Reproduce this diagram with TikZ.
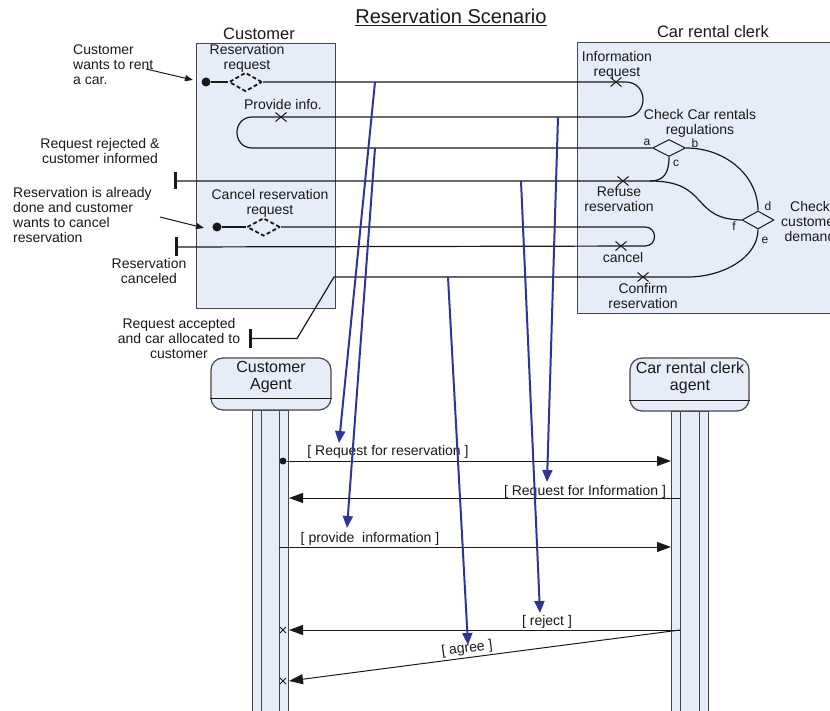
\documentclass[tikz,border=0pt]{standalone}
\usepackage{fontspec}
\setmainfont{Liberation Sans}
\usetikzlibrary{arrows.meta,calc,shapes.geometric}

\definecolor{lanefill}{RGB}{231,237,248}
\definecolor{ink}{RGB}{25,25,25}
\definecolor{edge}{RGB}{70,70,70}
\definecolor{flowblue}{RGB}{48,52,152}

\begin{document}
\begin{tikzpicture}[x=1pt,y=-1pt,
  lbl/.style={font=\fontsize{14}{15}\selectfont, inner sep=0, align=center, text=ink},
  lanetitle/.style={font=\fontsize{16.5}{18}\selectfont, inner sep=0, text=ink},
  agenttext/.style={font=\fontsize{16}{17.5}\selectfont, inner sep=0, align=center, text=ink},
  pin/.style={font=\fontsize{12}{12}\selectfont, inner sep=0, text=ink},
  lane/.style={draw=edge, fill=lanefill, line width=0.8pt, inner sep=0},
  flow/.style={draw=ink, line width=1.2pt},
  startdot/.style={circle, fill=ink, minimum size=9pt, inner sep=0},
  endbar/.style={rectangle, fill=ink, minimum width=3pt, minimum height=17pt, inner sep=0},
  choice/.style={diamond, draw=ink, minimum width=33pt, minimum height=17pt, inner sep=0, line width=1pt},
  tentative/.style={choice, line width=1.8pt, dash pattern=on 4pt off 2.5pt},
  agentbox/.style={draw=edge, fill=lanefill, line width=1.2pt, rounded corners=12pt, minimum width=120pt, minimum height=52pt, inner sep=0},
  lifeline/.style={draw=edge, fill=lanefill, line width=0.9pt},
  msg/.style={draw=ink, line width=1pt, -{Triangle[length=14pt,width=10pt]}},
  note/.style={draw=ink, line width=1pt, -{Triangle[length=8pt,width=6pt]}},
  trace/.style={draw=flowblue, line width=2pt, -{Triangle[length=12pt,width=10pt]}},
  xmark/.pic={\draw[ink, line width=1pt] (-5.5,-4.5) -- (5.5,4.5) (-5.5,4.5) -- (5.5,-4.5);},
  smallx/.pic={\draw[ink, line width=0.9pt] (-3,-3) -- (3,3) (-3,3) -- (3,-3);}
]
\useasboundingbox (0,0) rectangle (830,711);
\clip (0,0) rectangle (830,711);

% ---------- swimlanes ----------
\node[lane, minimum width=139pt, minimum height=265pt] (custlane) at (265.5,175.5) {};
\node[lane, minimum width=263pt, minimum height=271pt] (clerklane) at (708.5,177.5) {};
\node[lanetitle] (custtitle) at (259,34) {Customer};
\node[lanetitle] (clerktitle) at (713,32) {Car rental clerk};
\node[font=\fontsize{20}{22}\selectfont, inner sep=0, text=ink] (title) at (451,17) {\underline{Reservation Scenario}};

% ---------- activity elements ----------
\node[startdot] (s1) at (206,82) {};
\node[startdot] (s2) at (217,227) {};
\node[tentative, minimum height=19pt] (rq) at (245.5,82) {};
\node[tentative, minimum height=18pt] (cr) at (263.5,227) {};
\node[choice] (rules) at (669,148) {};
\node[choice, minimum width=32pt, minimum height=18pt] (demand) at (758,220) {};
\node[endbar] (barR) at (175,181) {};
\node[endbar, minimum height=19pt] (barC) at (176,247) {};
\node[endbar, minimum height=19pt] (barA) at (250,338.5) {};

\coordinate (xInfo) at (616,82);
\coordinate (xProv) at (281,117);
\coordinate (xRef) at (623,181);
\coordinate (xCan) at (621,246);
\coordinate (xConf) at (643,277);
\coordinate (jr) at (650,181);
\coordinate (jc) at (688,277);

% reservation request loop
\draw[flow] (s1) -- (rq.west);
\draw[flow] (rq.east) -- (625.5,82) .. controls (648.8,82) and (648.8,117) .. (625.5,117)
   -- (252.5,117) .. controls (231.8,117) and (231.8,148) .. (252.5,148) -- (rules.west);
% regulations outcomes
\draw[flow] (rules.south) .. controls (669,173) and (664,181) .. (jr) -- (barR);
\draw[flow] (jr) .. controls (710,181) and (690,219) .. (demand.west);
\draw[flow] (rules.east) .. controls (726,148) and (758,176) .. (demand.north);
\draw[flow] (demand.south) .. controls (758,258) and (722,277) .. (jc)
   -- (334,277) -- (297,338.5) -- (barA);
% cancellation
\draw[flow] (s2) -- (cr.west);
\draw[flow] (cr.east) -- (645,227) .. controls (657.7,227) and (657.7,246) .. (645,246) -- (barC);

\pic at (xInfo) {xmark};
\pic at (xProv) {xmark};
\pic at (xRef) {xmark};
\pic at (xCan) {xmark};
\pic at (xConf) {xmark};

% ---------- activity labels ----------
\node[lbl] (lrq) at (247,58.5) {Reservation\\request};
\node[lbl] (lprov) at (283,104) {Provide info.};
\node[lbl] (lcr) at (270,203.5) {Cancel reservation\\request};
\node[lbl] (linfo) at (617,65) {Information\\request};
\node[lbl] (lrules) at (700,123) {Check Car rentals\\regulations};
\node[lbl] (lref) at (619,199) {Refuse\\reservation};
\node[lbl] (lcan) at (623,257) {cancel};
\node[lbl] (lconf) at (643,296) {Confirm\\reservation};
\node[lbl] (ldem) at (810,221) {Check\\customer\\demand};
\node[pin] (pa) at (647,142) {a};
\node[pin] (pb) at (695,143) {b};
\node[pin] (pc) at (676,163) {c};
\node[pin] (pd) at (768,206) {d};
\node[pin] (pe) at (765,240) {e};
\node[pin] (pf) at (734,226) {f};

% ---------- outside notes ----------
\node[lbl, anchor=west, align=left] (nwant) at (73,65) {Customer\\wants to rent\\a car.};
\node[lbl] (nrej) at (100,151) {Request rejected \&\\customer informed};
\node[lbl, anchor=west, align=left] (ndone) at (13,215) {Reservation is already\\done and customer\\wants to cancel\\reservation};
\node[lbl] (ncanc) at (149,271) {Reservation\\canceled};
\node[lbl] (nacc) at (179,338) {Request accepted\\and car allocated to\\customer};
\coordinate (aw1) at (146,69);
\coordinate (aw2) at (193,80);
\coordinate (ad1) at (160,217);
\coordinate (ad2) at (204,228);
\draw[note] (aw1) -- (aw2);
\draw[note] (ad1) -- (ad2);

% ---------- agents and lifelines ----------
\draw[lifeline] (252,410) rectangle (288,720);
\draw[edge, line width=0.9pt] (261,410) -- (261,720) (279,410) -- (279,720);
\draw[lifeline] (671,411) rectangle (708,720);
\draw[edge, line width=0.9pt] (680,411) -- (680,720) (699,411) -- (699,720);

\node[agentbox] (custagent) at (271,384) {};
\node[agentbox, minimum width=119pt, minimum height=53pt] (clerkagent) at (689.5,384.5) {};
\draw[ink, line width=1pt] (custagent.west |- 0,398) -- (custagent.east |- 0,398);
\draw[ink, line width=1pt] (clerkagent.west |- 0,400) -- (clerkagent.east |- 0,400);
\node[agenttext] (tcust) at (271,377) {Customer\\Agent};
\node[agenttext] (tclerk) at (690,378) {Car rental clerk\\agent};

% ---------- messages ----------
\node[startdot, minimum size=7pt] (m1dot) at (283,461) {};
\coordinate (m1e) at (671,461);
\coordinate (m2s) at (680,498);
\coordinate (m2e) at (289,498);
\coordinate (m3s) at (279,547);
\coordinate (m3e) at (671,547);
\coordinate (m4s) at (680,630);
\coordinate (m4e) at (289,630);
\coordinate (m5e) at (289,681);
\draw[msg] (m1dot) -- (m1e);
\draw[msg] (m2s) -- (m2e);
\draw[msg] (m3s) -- (m3e);
\draw[msg] (m4s) -- (m4e);
\draw[msg] (m4s) -- (m5e);
\pic at (283,630) {smallx};
\pic at (283,681) {smallx};

\node[lbl] (lm1) at (388,452) {[ Request for reservation ]};
\node[lbl] (lm2) at (585,492) {[ Request for Information ]};
\node[lbl] (lm3) at (370,539) {[ provide\ \ information ]};
\node[lbl] (lm4) at (547,622) {[ reject ]};
\node[lbl, rotate=7.4] (lm5) at (467,649) {[ agree ]};

% ---------- traces from activities to messages ----------
\coordinate (t1s) at (375,82);   \coordinate (t1e) at (339,443);
\coordinate (t2s) at (375,148);  \coordinate (t2e) at (347,528);
\coordinate (t3s) at (558,117);  \coordinate (t3e) at (547,482);
\coordinate (t4s) at (521,181);  \coordinate (t4e) at (540,613);
\coordinate (t5s) at (448,277);  \coordinate (t5e) at (468,645);
\draw[trace] (t1s) -- (t1e);
\draw[trace] (t2s) -- (t2e);
\draw[trace] (t3s) -- (t3e);
\draw[trace] (t4s) -- (t4e);
\draw[trace] (t5s) -- (t5e);
\end{tikzpicture}
\end{document}
